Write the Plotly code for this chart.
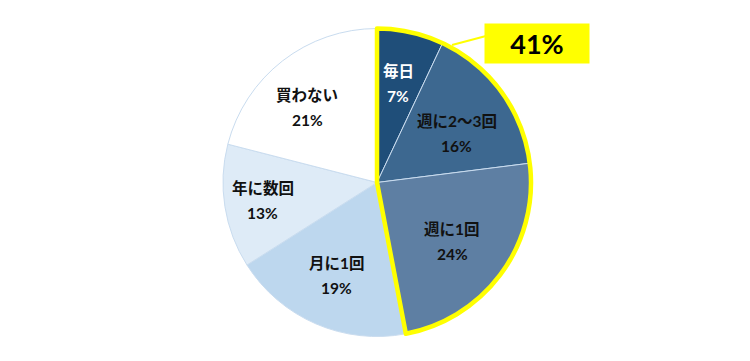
import math
import plotly.graph_objects as go

labels = ["毎日", "週に2〜3回", "週に1回", "月に1回", "年に数回", "買わない"]
values = [7, 16, 24, 19, 13, 21]
colors = ["#1F4E79", "#3D6890", "#5E7FA3", "#BDD7EE", "#DEEBF7", "#FFFFFF"]
text_colors = ["white", "#111111", "#111111", "#111111", "#111111", "#111111"]
highlight_count = 3
highlight_label = "41%"

# label placement (radial fraction, angle offset in degrees) - layout only
label_r = [0.657, 0.605, 0.622, 0.657, 0.75, 0.664]
label_dtheta = [-0.6, 4.6, 2.0, 0.0, 0.0, -5.4]

W, H = 750, 361
cx, cy, R = 377, 182.5, 154
dom = dict(x=[(cx - R) / W, (cx + R) / W], y=[1 - (cy + R) / H, 1 - (cy - R) / H])

hl_value = sum(values[:highlight_count])
rest_value = sum(values[highlight_count:])

font = "Lato, 'Noto Sans CJK JP', sans-serif"

fig = go.Figure()
fig.add_trace(go.Pie(
    labels=labels, values=values, sort=False, direction="clockwise", rotation=0,
    marker=dict(colors=colors, line=dict(color="#C9DCEF", width=1)),
    textinfo="none", hoverinfo="skip", showlegend=False, domain=dom,
))
fig.add_trace(go.Pie(
    labels=["hl", "rest"], values=[hl_value, rest_value], sort=False,
    direction="clockwise", rotation=0,
    marker=dict(colors=["rgba(0,0,0,0)", "rgba(0,0,0,0)"],
                line=dict(color=["#FFFF00", "rgba(0,0,0,0)"], width=[4.5, 0])),
    textinfo="none", hoverinfo="skip", showlegend=False, domain=dom,
))

total = sum(values)
cum = 0
for i, (lab, v) in enumerate(zip(labels, values)):
    theta = math.radians((cum + v / 2) / total * 360 + label_dtheta[i])
    cum += v
    px = cx + label_r[i] * R * math.sin(theta)
    py = cy - label_r[i] * R * math.cos(theta)
    for txt, off in ((lab, -12.5), (f"{v}%", 12.5)):
        fig.add_annotation(
            x=px / W, y=1 - (py + off) / H, xref="paper", yref="paper",
            text=f"<b>{txt}</b>", showarrow=False,
            font=dict(family=font, size=15.5, color=text_colors[i]),
            xanchor="center", yanchor="middle",
        )

# callout
fig.add_shape(type="line", xref="paper", yref="paper",
              x0=452 / W, y0=1 - 45 / H, x1=486 / W, y1=1 - 36 / H,
              line=dict(color="#FFFF00", width=2))
fig.add_annotation(
    x=537 / W, y=1 - 43.5 / H, xref="paper", yref="paper",
    text="<b>" + highlight_label + "</b>", showarrow=False,
    bgcolor="#FFFF00", font=dict(family="Lato, sans-serif", size=27, color="black"),
    width=104, height=39, borderpad=0, xanchor="center", yanchor="middle",
)

fig.update_layout(
    width=W, height=H, margin=dict(l=0, r=0, t=0, b=0),
    paper_bgcolor="white", plot_bgcolor="white",
)
fig.write_html("out.html", config={"displayModeBar": False},
               post_script="document.body.style.margin='0px';")
